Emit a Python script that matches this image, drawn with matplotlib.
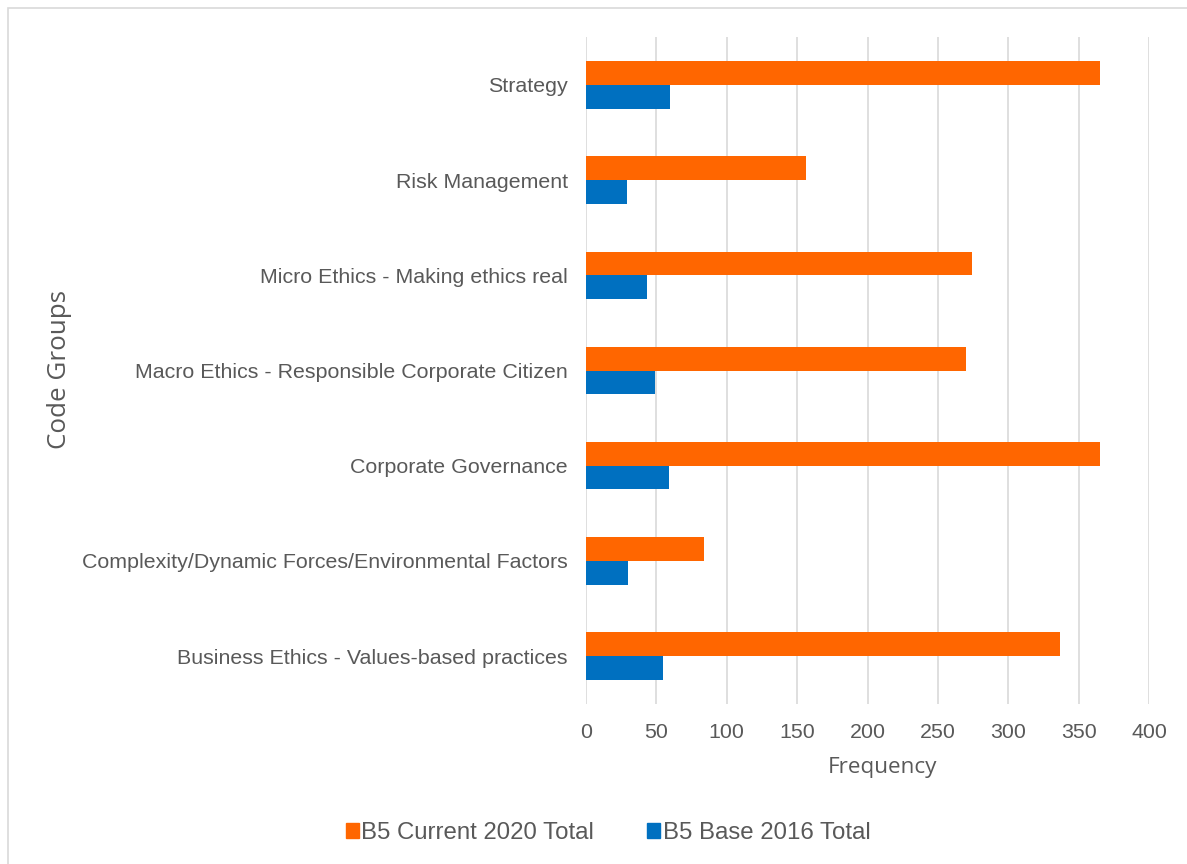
import matplotlib
matplotlib.use("Agg")
import matplotlib.pyplot as plt
from matplotlib.patches import Patch, Rectangle
import numpy as np

# Code groups, listed bottom to top as they appear on the axis
categories = [
    "Business Ethics - Values-based practices",
    "Complexity/Dynamic Forces/Environmental Factors",
    "Corporate Governance",
    "Macro Ethics - Responsible Corporate Citizen",
    "Micro Ethics - Making ethics real",
    "Risk Management",
    "Strategy",
]
current_2020 = [337, 84, 365, 270, 274, 156, 365]
base_2016 = [55, 30, 59, 49, 43, 29, 60]
series_names = ["B5 Current 2020 Total", "B5 Base 2016 Total"]
x_ticks = [0, 50, 100, 150, 200, 250, 300, 350, 400]

ORANGE = "#FF6600"
BLUE = "#0070C0"
GRID = "#D9D9D9"
TEXT = "#595959"

plt.rcParams["font.family"] = ["Liberation Sans", "DejaVu Sans"]

W, H = 1187, 864
fig = plt.figure(figsize=(W / 100, H / 100), dpi=100)
ax = fig.add_axes([586 / W, 1 - 703.6 / H, (1149 - 586) / W, (703.6 - 37.4) / H])

y = np.arange(len(categories))
bh = 0.25
ax.barh(y + bh / 2, current_2020, height=bh, color=ORANGE, zorder=3)
ax.barh(y - bh / 2, base_2016, height=bh, color=BLUE, zorder=3)

ax.set_xlim(0, 400)
ax.set_ylim(-0.5, len(categories) - 0.5)
ax.set_xticks(x_ticks)
ax.set_xticklabels([str(t) for t in x_ticks])
ax.set_yticks(y)
ax.set_yticklabels(categories)
ax.tick_params(axis="both", length=0, labelsize=15.4, labelcolor=TEXT)
ax.tick_params(axis="y", pad=13)
ax.tick_params(axis="x", pad=14)
ax.grid(axis="x", color=GRID, linewidth=1.2, zorder=0)
ax.set_axisbelow(True)
for s in ax.spines.values():
    s.set_visible(False)

# Axis titles
fig.text(882 / W, 1 - 767 / H, "Frequency", ha="center", va="center",
         fontsize=16.2, color=TEXT, family=["Open Sans", "DejaVu Sans"])
fig.text(60 / W, 1 - 370 / H, "Code Groups", ha="center", va="center",
         rotation=90, fontsize=18.7, color=TEXT, family=["Open Sans", "DejaVu Sans"])

# Legend
handles = [Patch(color=ORANGE), Patch(color=BLUE)]
fig.legend(handles, series_names, loc="center", bbox_to_anchor=(608 / W, 1 - 833 / H),
           ncol=2, frameon=False, fontsize=17.3, labelcolor=TEXT,
           handlelength=0.55, handleheight=0.55, handletextpad=0.1, columnspacing=2.2)

# Chart border
fig.add_artist(Rectangle((8 / W, -0.01), 1.02, 1 - 8 / H + 0.01, transform=fig.transFigure,
                         fill=False, edgecolor=GRID, linewidth=1.2))

fig.savefig("out.png", dpi=100, facecolor="white")
